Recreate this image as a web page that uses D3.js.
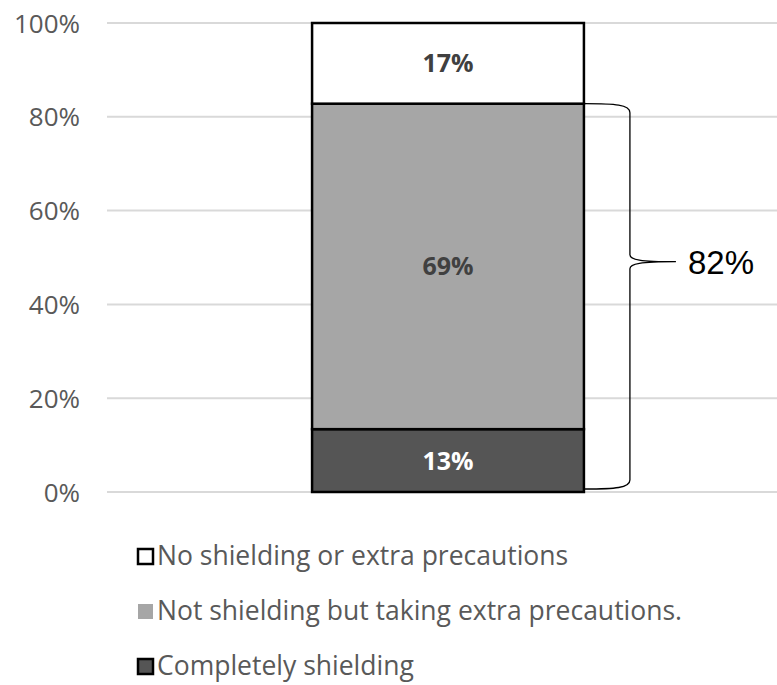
<!DOCTYPE html>
<html>
<head>
<meta charset="utf-8">
<script src="https://cdn.jsdelivr.net/npm/d3@7"></script>
<style>
  body { margin: 0; background: #fff; }
  svg { display: block; }
</style>
</head>
<body>
<svg id="chart" width="777" height="685"></svg>
<script>
const categories = [""];
const seriesNames = ["Completely shielding", "Not shielding but taking extra precautions.", "No shielding or extra precautions"];
const seriesValues = [13.4, 69.4, 17.2];
const seriesLabels = ["13%", "69%", "17%"];
const yTicks = [0, 20, 40, 60, 80, 100];
const legendOrder = [2, 1, 0];
const braceLabel = "82%";

const fills = ["#555555", "#a6a6a6", "#ffffff"];
const labelColors = ["#ffffff", "#404040", "#404040"];

const svg = d3.select("#chart");
const W = 777;

const y = d3.scaleLinear().domain([0, 100]).range([492, 23]);
const x = d3.scaleBand().domain(categories).range([107, 789]).padding(0.43);

// gridlines
svg.append("g")
  .selectAll("line")
  .data(yTicks)
  .join("line")
  .attr("x1", 107)
  .attr("x2", W)
  .attr("y1", d => y(d))
  .attr("y2", d => y(d))
  .attr("stroke", "#d9d9d9")
  .attr("stroke-width", 2);

// y axis labels
const yAxis = d3.axisLeft(y).tickValues(yTicks).tickFormat(d => d + "%").tickSize(0).tickPadding(0);
const gy = svg.append("g").attr("transform", "translate(80,0)").call(yAxis);
gy.select(".domain").remove();
gy.selectAll("text")
  .attr("font-family", "Open Sans")
  .attr("font-size", 26)
  .attr("fill", "#595959")
  .attr("dy", "0.35em");

// stacked segments
let acc = 0;
const segs = seriesValues.map((v, i) => {
  const s = { i, y0: acc, y1: acc + v, label: seriesLabels[i] };
  acc += v;
  return s;
});

const bar = svg.append("g");
bar.selectAll("rect")
  .data(segs)
  .join("rect")
  .attr("x", x(""))
  .attr("width", x.bandwidth())
  .attr("y", d => y(d.y1))
  .attr("height", d => y(d.y0) - y(d.y1))
  .attr("fill", d => fills[d.i])
  .attr("stroke", "#000")
  .attr("stroke-width", 2.5);

bar.selectAll("text")
  .data(segs)
  .join("text")
  .text(d => d.label)
  .attr("x", x("") + x.bandwidth() / 2)
  .attr("y", d => (y(d.y0) + y(d.y1)) / 2)
  .attr("dy", "0.36em")
  .attr("text-anchor", "middle")
  .attr("font-family", "Open Sans")
  .attr("font-weight", "bold")
  .attr("font-size", 25)
  .attr("fill", d => labelColors[d.i]);

// brace over the two lower segments
const bx0 = x("") + x.bandwidth() + 1;
const bx1 = bx0 + 45;
const bx2 = bx0 + 91;
const bTop = y(seriesValues[0] + seriesValues[1]);
const bBot = y(0) - 3;
const bTip = bTop + (bBot - bTop) * 0.41;
const bracePath = `M${bx0},${bTop} C${bx0 + 30},${bTop} ${bx1},${bTop + 1} ${bx1},${bTop + 9}
  L${bx1},${bTip - 7} C${bx1},${bTip - 2} ${bx1 + 10},${bTip} ${bx2},${bTip}
  C${bx1 + 10},${bTip} ${bx1},${bTip + 2} ${bx1},${bTip + 7}
  L${bx1},${bBot - 9} C${bx1},${bBot - 1} ${bx0 + 30},${bBot} ${bx0},${bBot}`;
svg.append("path")
  .attr("d", bracePath)
  .attr("fill", "none")
  .attr("stroke", "#000")
  .attr("stroke-width", 1.3);

svg.append("text")
  .text(braceLabel)
  .attr("x", bx2 + 12)
  .attr("y", bTip + 12)
  .attr("font-family", "Liberation Sans")
  .attr("font-size", 33)
  .attr("fill", "#000");

// legend
const legend = svg.append("g")
  .selectAll("g")
  .data(legendOrder)
  .join("g")
  .attr("transform", (d, k) => `translate(138,${565 + k * 55})`);

legend.append("rect")
  .attr("x", 0)
  .attr("y", -16)
  .attr("width", 15)
  .attr("height", 15)
  .attr("fill", d => fills[d])
  .attr("stroke", d => d === 1 ? "none" : "#000")
  .attr("stroke-width", 2.5);

legend.append("text")
  .text(d => seriesNames[d])
  .attr("x", 19)
  .attr("y", 0)
  .attr("font-family", "Open Sans")
  .attr("font-size", 26.5)
  .attr("fill", "#595959");
</script>
</body>
</html>
